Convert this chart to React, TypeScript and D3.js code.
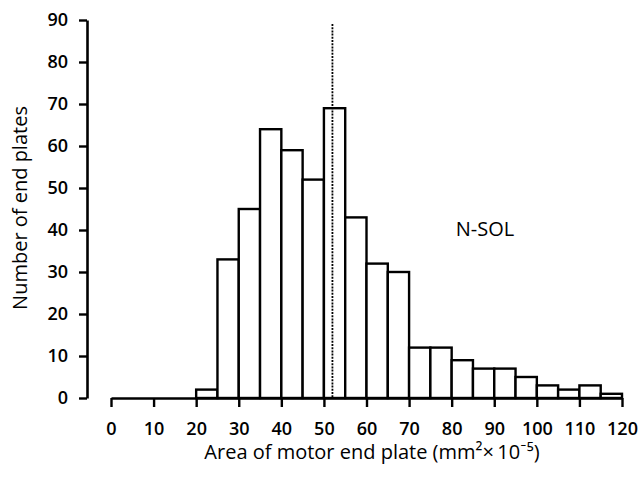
import React, { useEffect, useRef } from "react";
import * as d3 from "d3";

// histogram bins of 5 units, 0 to 120
const binStarts = [0, 5, 10, 15, 20, 25, 30, 35, 40, 45, 50, 55, 60, 65, 70, 75, 80, 85, 90, 95, 100, 105, 110, 115];
const counts = [0, 0, 0, 0, 2, 33, 45, 64, 59, 52, 69, 43, 32, 30, 12, 12, 9, 7, 7, 5, 3, 2, 3, 1];
const binWidth = 5;
const xTicks = [0, 10, 20, 30, 40, 50, 60, 70, 80, 90, 100, 110, 120];
const yTicks = [0, 10, 20, 30, 40, 50, 60, 70, 80, 90];
const meanValue = 52;
const groupLabel = "N-SOL";

const FONT = "'Open Sans', Lato, sans-serif";

function Histogram() {
  const svgRef = useRef<SVGSVGElement | null>(null);

  useEffect(() => {
    const svg = d3.select(svgRef.current);
    svg.selectAll("*").remove();

    const xScale = d3.scaleLinear().domain([0, 120]).range([111, 622]);
    const yScale = d3.scaleLinear().domain([0, 90]).range([398, 20]);
    const yAxisX = 87;

    // bars
    svg
      .append("g")
      .selectAll("rect")
      .data(counts)
      .join("rect")
      .attr("x", (d, i) => xScale(binStarts[i]))
      .attr("y", (d) => yScale(d))
      .attr("width", xScale(binWidth) - xScale(0))
      .attr("height", (d) => yScale(0) - yScale(d))
      .attr("fill", "white")
      .attr("stroke", "black")
      .attr("stroke-width", 2.4);

    // mean line
    svg
      .append("line")
      .attr("x1", xScale(meanValue))
      .attr("x2", xScale(meanValue))
      .attr("y1", 24)
      .attr("y2", yScale(0))
      .attr("stroke", "black")
      .attr("stroke-width", 1.8)
      .attr("stroke-dasharray", "2,1.2");

    // x axis
    const xAxis = svg
      .append("g")
      .attr("transform", `translate(0,${yScale(0)})`)
      .call(d3.axisBottom(xScale).tickValues(xTicks).tickSize(9).tickSizeOuter(0).tickPadding(15));
    xAxis.select(".domain").attr("stroke-width", 2.6);
    xAxis.selectAll(".tick line").attr("stroke-width", 2.4);
    xAxis
      .selectAll(".tick text")
      .attr("font-family", FONT)
      .attr("font-size", 18)
      .attr("font-weight", 600)
      .attr("fill", "black");

    // y axis
    const yAxis = svg
      .append("g")
      .attr("transform", `translate(${yAxisX},0)`)
      .call(d3.axisLeft(yScale).tickValues(yTicks).tickSize(8).tickSizeOuter(0).tickPadding(11));
    yAxis.select(".domain").attr("stroke-width", 2.6);
    yAxis.selectAll(".tick line").attr("stroke-width", 2.4);
    yAxis
      .selectAll(".tick text")
      .attr("font-family", FONT)
      .attr("font-size", 18)
      .attr("font-weight", 600)
      .attr("fill", "black");

    // titles
    svg
      .append("text")
      .attr("x", 372)
      .attr("y", 459)
      .attr("text-anchor", "middle")
      .attr("font-family", FONT)
      .attr("font-size", 20)
      .text("Area of motor end plate (mm\u00b2\u00d7\u200910\u207b\u2075)");

    svg
      .append("text")
      .attr("transform", "translate(27,208) rotate(-90)")
      .attr("text-anchor", "middle")
      .attr("font-family", FONT)
      .attr("font-size", 20)
      .text("Number of end plates");

    svg
      .append("text")
      .attr("x", 485)
      .attr("y", 236)
      .attr("text-anchor", "middle")
      .attr("font-family", FONT)
      .attr("font-size", 20)
      .text(groupLabel);
  }, []);

  return (
    <svg
      ref={svgRef}
      width={640}
      height={478}
      style={{ position: "absolute", left: 0, top: 0, background: "white" }}
    ></svg>
  );
}

export default function App() {
  return <Histogram />;
}
